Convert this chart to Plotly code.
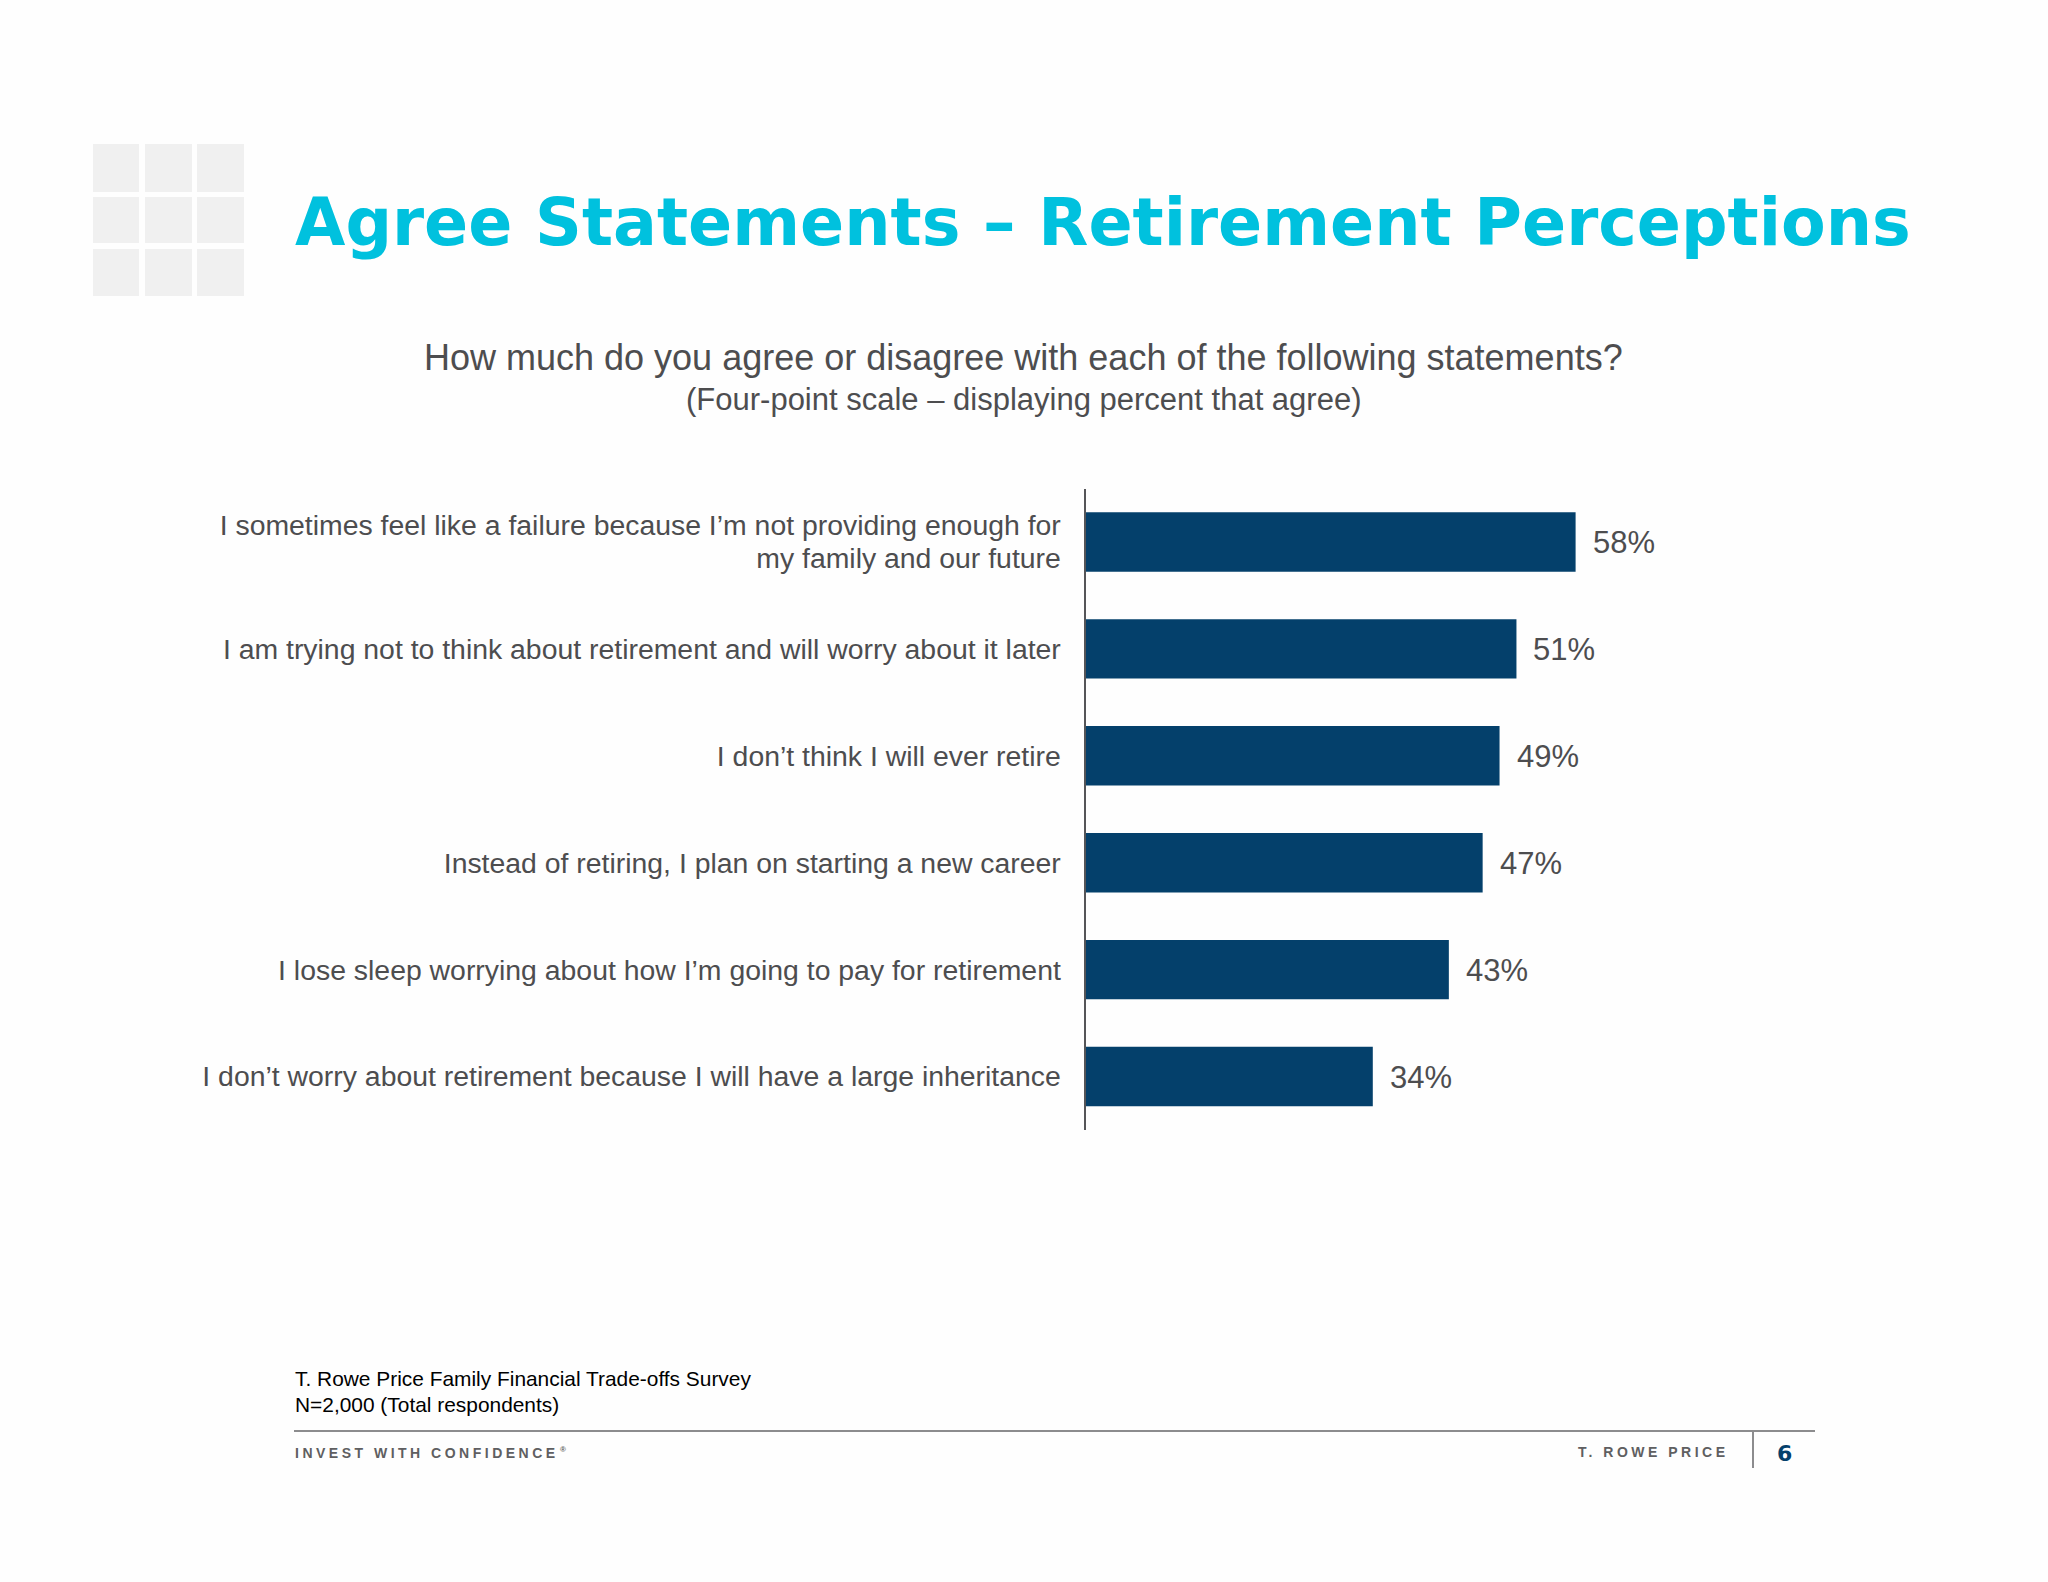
import plotly.graph_objs as go

W, H = 2048, 1582

STATEMENTS = [
    "I sometimes feel like a failure because I’m not providing enough for<br>my family and our future",
    "I am trying not to think about retirement and will worry about it later",
    "I don’t think I will ever retire",
    "Instead of retiring, I plan on starting a new career",
    "I lose sleep worrying about how I’m going to pay for retirement",
    "I don’t worry about retirement because I will have a large inheritance",
]
AGREE_PCT = [58, 51, 49, 47, 43, 34]

TITLE = "Agree Statements – Retirement Perceptions"
QUESTION = "How much do you agree or disagree with each of the following statements?"
SCALE_NOTE = "(Four-point scale – displaying percent that agree)"
SOURCE = ["T. Rowe Price Family Financial Trade-offs Survey", "N=2,000 (Total respondents)"]
TAGLINE = "INVEST WITH CONFIDENCE"
BRAND = "T. ROWE PRICE"
PAGE = "6"

GREY = '#4d4d4f'
NAVY = '#04406b'
CYAN = '#00c1de'
ARIAL = 'Liberation Sans'
VERDANA = 'DejaVu Sans'


def px(x):
    return x / W


def py(y):
    return 1 - y / H


def label(x, y, text, size, color=GREY, family=ARIAL, weight='normal', anchor='left'):
    return dict(xref='paper', yref='paper', x=px(x), y=py(y), text=text, showarrow=False,
                xanchor=anchor, yanchor='middle', align=anchor, borderpad=0, borderwidth=0,
                font=dict(size=size, color=color, family=family, weight=weight))


def rect(x0, y0, x1, y1, color):
    return dict(type='rect', xref='paper', yref='paper', x0=px(x0), x1=px(x1), y0=py(y0), y1=py(y1),
                fillcolor=color, line=dict(width=0), layer='below')


def rule(x0, y0, x1, y1):
    return dict(type='line', xref='paper', yref='paper', x0=px(x0), x1=px(x1), y0=py(y0), y1=py(y1),
                line=dict(color='#8c8c8e', width=2))


bars = go.Bar(x=AGREE_PCT, y=STATEMENTS, orientation='h', width=0.556,
              marker=dict(color=NAVY, line=dict(width=0)), hoverinfo='skip')

shapes = []
for x0, x1 in [(93, 139), (145, 192), (197, 244)]:
    for y0, y1 in [(144, 192), (197, 243), (249, 296)]:
        shapes.append(rect(x0, y0, x1, y1, '#f0f0f0'))
shapes.append(rule(294, 1431, 1815, 1431))
shapes.append(rule(1753, 1431, 1753, 1468))

annotations = [
    label(295, 222, TITLE, 65.1, CYAN, VERDANA, 'bold'),
    label(1023, 357, QUESTION, 36, anchor='center'),
    label(1023, 399, SCALE_NOTE, 31, anchor='center'),
    label(295, 1378, SOURCE[0], 20.9, '#000000'),
    label(295, 1404, SOURCE[1], 20.9, '#000000'),
    label(295, 1453, TAGLINE, 14, '#5f5f61', ARIAL, 'bold'),
    label(560, 1449, '®', 8, '#5f5f61', ARIAL, 'bold'),
    label(1578, 1452, BRAND, 14, '#5f5f61', ARIAL, 'bold'),
    label(1784, 1453, PAGE, 22, NAVY, VERDANA, 'bold', anchor='center'),
]
for name, value in zip(STATEMENTS, AGREE_PCT):
    annotations.append(dict(x=value, y=name, xref='x', yref='y', text=f'{value}%', showarrow=False,
                            xanchor='left', yanchor='middle', xshift=15, yshift=-1,
                            font=dict(size=31, color=GREY, family=ARIAL)))

layout = go.Layout(
    width=W, height=H, autosize=False, showlegend=False, bargap=0.444,
    paper_bgcolor='#fefefe', plot_bgcolor='rgba(0,0,0,0)',
    margin=dict(l=0, r=0, t=0, b=0),
    font=dict(family=ARIAL, color=GREY),
    xaxis=dict(domain=[px(1085.5), px(1930.5)], range=[0, 100], visible=False, fixedrange=True),
    yaxis=dict(domain=[py(1130), py(488.5)], autorange='reversed', showgrid=False, zeroline=False,
               showline=True, linecolor='#555558', linewidth=2, ticks='', ticklabelstandoff=17,
               tickfont=dict(size=28.4, color=GREY, family=ARIAL), fixedrange=True),
    shapes=shapes, annotations=annotations,
)

fig = go.Figure(data=[bars], layout=layout)

# page margin off, footer tracking and the tighter two-line label, none of which plotly fonts can set
post = """
document.body.style.margin = '0';
document.querySelectorAll('.annotation-text').forEach(function (t) {
    if (t.textContent.startsWith('INVEST') || t.textContent.startsWith('T. ROWE')) {
        t.style.letterSpacing = '3.5px';
    }
});
document.querySelectorAll('.ytick text').forEach(function (t) {
    var lines = t.querySelectorAll('tspan.line');
    if (lines.length === 2) {
        lines[0].setAttribute('dy', '2px');
        lines[1].setAttribute('dy', '1.2em');
    }
});
"""
fig.write_html("out.html", post_script=post, config=dict(displayModeBar=False))
